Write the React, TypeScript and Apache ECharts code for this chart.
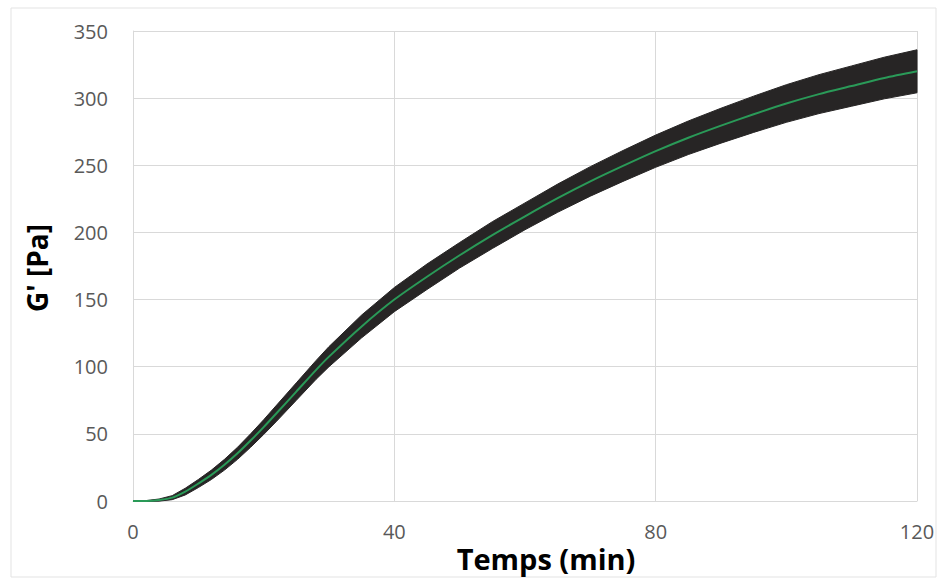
import React, { useEffect, useRef } from "react";
import * as echarts from "echarts";

const times = [0, 2, 4, 6, 8, 10, 12, 14, 16, 18, 20, 22, 25, 28, 30, 35, 40, 45, 50, 55, 60, 65, 70, 75, 80, 85, 90, 95, 100, 105, 110, 115, 120];
const meanG = [0, 0, 0.7, 2.5, 7, 13, 19.5, 27, 35.5, 45, 55, 65.5, 81.5, 97.5, 107.5, 130, 150, 167, 183, 198, 212, 225.5, 238, 249.5, 260.5, 270.5, 279.5, 288, 296, 303, 309, 315, 320];
const errG = [0, 0.3, 0.8, 1.5, 2.5, 3, 3.5, 4, 4.5, 5, 5.5, 6, 6.5, 7, 7.5, 8.5, 9, 9.5, 9.5, 10, 10, 10.5, 11, 11.5, 12, 12.5, 13, 13.5, 14, 14.5, 15, 15.5, 16];
const xTicks = [0, 40, 80, 120];
const yMax = 350;
const yStep = 50;

export default function App() {
  const ref = useRef<HTMLDivElement>(null);
  useEffect(() => {
    if (!ref.current) return;
    const chart = echarts.init(ref.current, undefined, { renderer: "svg" });
    const bandData = times.map((t, i) => [t, meanG[i] - errG[i], meanG[i] + errG[i]]);
    const mean = times.map((t, i) => [t, meanG[i]]);
    const font = "'Open Sans', sans-serif";
    chart.setOption({
      animation: false,
      backgroundColor: "#ffffff",
      grid: { left: 133, right: 24, top: 31, bottom: 77 },
      xAxis: {
        type: "value",
        min: 0,
        max: 120,
        interval: 40,
        axisLine: { show: true, lineStyle: { color: "#d9d9d9", width: 1 } },
        axisTick: { show: false },
        axisLabel: {
          color: "#595959",
          fontSize: 20,
          fontFamily: font,
          margin: 20,
          formatter: (v: number) => (xTicks.includes(v) ? String(v) : ""),
        },
        splitLine: { show: true, lineStyle: { color: "#d9d9d9", width: 1 } },
      },
      yAxis: {
        type: "value",
        min: 0,
        max: yMax,
        interval: yStep,
        axisLine: { show: true, lineStyle: { color: "#d9d9d9", width: 1 } },
        axisTick: { show: false },
        axisLabel: { color: "#595959", fontSize: 20, fontFamily: font, margin: 25 },
        splitLine: { show: true, lineStyle: { color: "#d9d9d9", width: 1 } },
      },
      graphic: [
        {
          type: "rect",
          shape: { x: 11, y: 8, width: 925, height: 569 },
          style: { fill: "none", stroke: "#e3e3e3", lineWidth: 1 },
          silent: true,
        },
        {
          type: "text",
          x: 546,
          y: 558,
          style: {
            text: "Temps (min)",
            font: `bold 29px ${font}`,
            fill: "#000000",
            align: "center",
            verticalAlign: "middle",
          },
        },
        {
          type: "text",
          x: 37,
          y: 268,
          rotation: Math.PI / 2,
          style: {
            text: "G' [Pa]",
            font: `bold 28px ${font}`,
            fill: "#000000",
            align: "center",
            verticalAlign: "middle",
          },
        },
      ],
      series: [
        {
          type: "custom",
          data: bandData,
          silent: true,
          renderItem: (params: any, api: any) => {
            if (params.dataIndex !== 0) return null;
            const upper: number[][] = [];
            const lowerPts: number[][] = [];
            for (let i = 0; i < bandData.length; i++) {
              upper.push(api.coord([bandData[i][0], bandData[i][2]]));
              lowerPts.push(api.coord([bandData[i][0], bandData[i][1]]));
            }
            const pts = upper.concat(lowerPts.reverse());
            return {
              type: "polygon",
              shape: { points: pts },
              style: { fill: "#272525", stroke: "#272525", lineWidth: 1, lineJoin: "round" },
            };
          },
          encode: { x: 0, y: [1, 2] },
        },
        {
          type: "line",
          data: mean,
          smooth: 0.25,
          symbol: "none",
          lineStyle: { color: "#2a9a58", width: 2 },
          z: 5,
        },
      ],
    });
    return () => chart.dispose();
  }, []);
  return <div ref={ref} style={{ position: "fixed", left: 0, top: 0, width: 941, height: 578 }} />;
}
